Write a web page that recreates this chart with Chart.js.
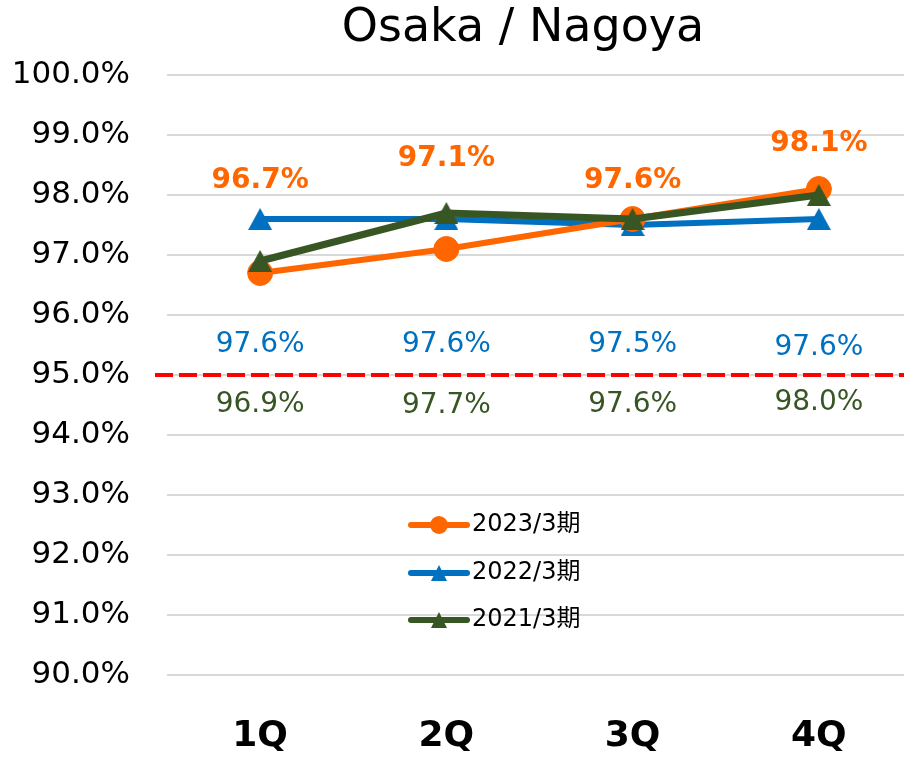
<!DOCTYPE html>
<html>
<head>
<meta charset="utf-8">
<script src="https://cdn.jsdelivr.net/npm/chart.js@4"></script>
<style>
  html, body { margin: 0; padding: 0; background: #fff; overflow: hidden; }
  #wrap { width: 912px; height: 764px; }
</style>
</head>
<body>
<div id="wrap"><canvas id="c" width="912" height="764"></canvas></div>
<script>
// ---- data ----
const categories = ['1Q', '2Q', '3Q', '4Q'];
const series2023 = [96.7, 97.1, 97.6, 98.1];
const series2022 = [97.6, 97.6, 97.5, 97.6];
const series2021 = [96.9, 97.7, 97.6, 98.0];
const seriesNames = ['2023/3期', '2022/3期', '2021/3期'];
const yMin = 90, yMax = 100, yStep = 1;
const targetValue = 95.0;
const chartTitle = 'Osaka / Nagoya';

// ---- styling ----
const ORANGE = '#FF6600', BLUE = '#0070C0', GREEN = '#375623', RED = '#FF0000';
const FONT = '"DejaVu Sans", "Noto Sans CJK JP", sans-serif';

function triangleCanvas(w, h, color) {
  const c = document.createElement('canvas');
  c.width = w; c.height = h;
  const g = c.getContext('2d');
  g.fillStyle = color;
  g.beginPath();
  g.moveTo(w / 2, 0);
  g.lineTo(w, h);
  g.lineTo(0, h);
  g.closePath();
  g.fill();
  return c;
}
const triBlue = triangleCanvas(24, 22, BLUE);
const triGreen = triangleCanvas(24, 22, GREEN);
const triBlueSmall = triangleCanvas(16, 16, BLUE);
const triGreenSmall = triangleCanvas(16, 16, GREEN);

// label anchor positions (value space), per dataset
const labelAnchors = [
  [98.24, 98.6, 98.24, 98.85],
  [95.51, 95.51, 95.51, 95.46],
  [94.51, 94.49, 94.51, 94.54]
];
const labelStyles = [
  { color: ORANGE, font: 'bold 28px ' + FONT },
  { color: BLUE, font: '28px ' + FONT },
  { color: GREEN, font: '28px ' + FONT }
];

const titlePlugin = {
  id: 'titlePlugin',
  afterDraw(chart) {
    const ctx = chart.ctx;
    ctx.save();
    ctx.font = '46px ' + FONT;
    ctx.fillStyle = '#000';
    ctx.textAlign = 'center';
    ctx.textBaseline = 'alphabetic';
    ctx.fillText(chartTitle, 523, 41);
    ctx.restore();
  }
};

const targetPlugin = {
  id: 'targetPlugin',
  beforeDatasetsDraw(chart) {
    const { ctx, chartArea, scales } = chart;
    const y = scales.y.getPixelForValue(targetValue);
    ctx.save();
    ctx.strokeStyle = RED;
    ctx.lineWidth = 4;
    ctx.setLineDash([18, 6]);
    ctx.beginPath();
    ctx.moveTo(chartArea.left - 12, y);
    ctx.lineTo(chartArea.right, y);
    ctx.stroke();
    ctx.restore();
  }
};

const labelPlugin = {
  id: 'labelPlugin',
  afterDatasetsDraw(chart) {
    const { ctx, scales } = chart;
    ctx.save();
    ctx.textAlign = 'center';
    ctx.textBaseline = 'middle';
    chart.data.datasets.forEach((ds, di) => {
      const st = labelStyles[di];
      ctx.font = st.font;
      ctx.fillStyle = st.color;
      ds.data.forEach((v, i) => {
        const x = scales.x.getPixelForValue(i);
        const y = scales.y.getPixelForValue(labelAnchors[di][i]);
        ctx.fillText(v.toFixed(1) + '%', x, y);
      });
    });
    ctx.restore();
  }
};

const legendPlugin = {
  id: 'legendPlugin',
  afterDraw(chart) {
    const ctx = chart.ctx;
    const x0 = 411, x1 = 467, xm = 439, tx = 472;
    const rows = [525, 573, 620];
    ctx.save();
    chart.data.datasets.forEach((ds, i) => {
      const y = rows[i];
      ctx.strokeStyle = ds.borderColor;
      ctx.lineWidth = 6;
      ctx.lineCap = 'round';
      ctx.beginPath();
      ctx.moveTo(x0, y);
      ctx.lineTo(x1, y);
      ctx.stroke();
      if (i === 0) {
        ctx.fillStyle = ds.borderColor;
        ctx.beginPath();
        ctx.arc(xm, y, 9, 0, Math.PI * 2);
        ctx.fill();
      } else {
        const img = i === 1 ? triBlueSmall : triGreenSmall;
        ctx.drawImage(img, xm - img.width / 2, y - img.height / 2);
      }
      ctx.fillStyle = '#000';
      ctx.font = '24px ' + FONT;
      ctx.textAlign = 'left';
      ctx.textBaseline = 'middle';
      ctx.fillText(ds.label, tx, y);
    });
    ctx.restore();
  }
};

new Chart(document.getElementById('c'), {
  type: 'line',
  data: {
    labels: categories,
    datasets: [
      {
        label: seriesNames[0], data: series2023,
        borderColor: ORANGE, backgroundColor: ORANGE,
        borderWidth: 6, pointStyle: 'circle', pointRadius: 12.5,
        pointBorderWidth: 1, pointBorderColor: ORANGE, pointBackgroundColor: ORANGE,
        order: 1
      },
      {
        label: seriesNames[1], data: series2022,
        borderColor: BLUE, backgroundColor: BLUE,
        borderWidth: 6, pointStyle: triBlue, pointRadius: 12,
        order: 2
      },
      {
        label: seriesNames[2], data: series2021,
        borderColor: GREEN, backgroundColor: GREEN,
        borderWidth: 7, pointStyle: triGreen, pointRadius: 12,
        order: 0
      }
    ]
  },
  options: {
    responsive: false,
    animation: false,
    events: [],
    layout: { autoPadding: false, padding: { top: 75, left: 0, right: 0, bottom: 0 } },
    elements: { line: { tension: 0, borderCapStyle: 'round', borderJoinStyle: 'round' } },
    plugins: { legend: { display: false }, title: { display: false }, tooltip: { enabled: false } },
    scales: {
      x: {
        offset: true,
        grid: { display: false, drawTicks: false },
        border: { display: false },
        ticks: { color: '#000', font: { family: FONT, size: 36, weight: 'bold' }, padding: 40 },
        afterFit(s) { s.height = 89; s.paddingLeft = 0; s.paddingRight = 0; }
      },
      y: {
        min: yMin, max: yMax,
        grid: { color: '#D9D9D9', lineWidth: 2, drawTicks: false },
        border: { display: false },
        ticks: {
          stepSize: yStep, color: '#000', padding: 37,
          font: { family: FONT, size: 31 },
          callback: v => v.toFixed(1) + '%'
        },
        afterFit(s) { s.width = 167; s.paddingTop = 0; s.paddingBottom = 0; }
      }
    }
  },
  plugins: [titlePlugin, targetPlugin, labelPlugin, legendPlugin]
});
</script>
</body>
</html>
